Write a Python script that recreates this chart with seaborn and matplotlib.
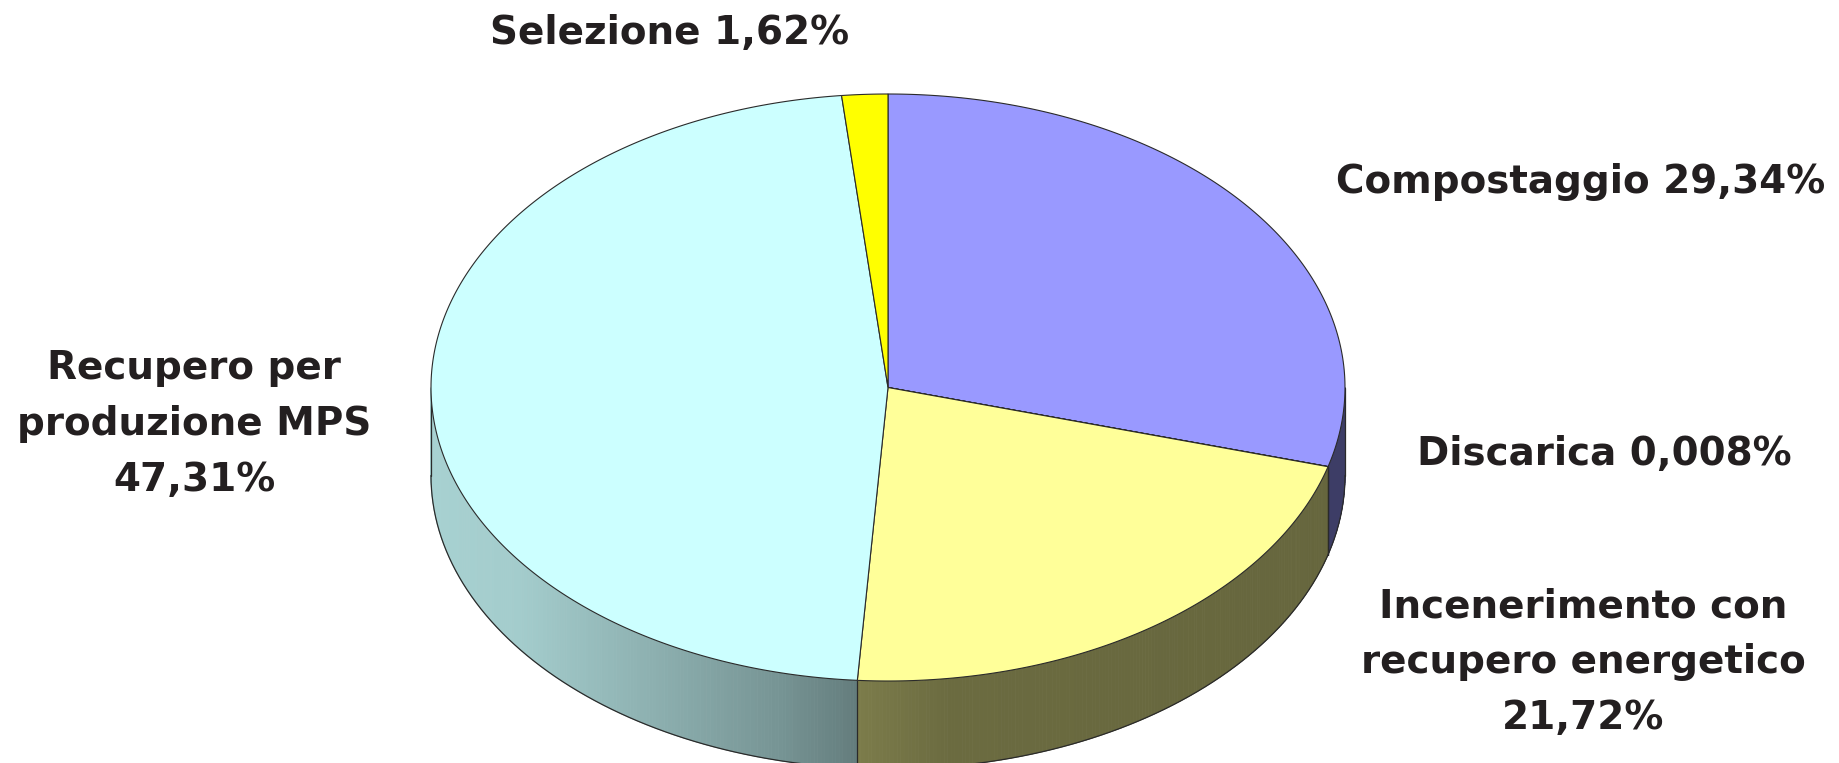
import numpy as np
import matplotlib.pyplot as plt
from matplotlib.collections import PolyCollection
from matplotlib.patches import Polygon
import seaborn as sns

# DATA
categories = ["Compostaggio", "Discarica", "Incenerimento con recupero energetico",
              "Recupero per produzione MPS", "Selezione"]
shares = [29.34, 0.008, 21.72, 47.31, 1.62]
labels = ["Compostaggio 29,34%", "Discarica 0,008%",
          "Incenerimento con\nrecupero energetico\n21,72%",
          "Recupero per\nproduzione MPS\n47,31%", "Selezione 1,62%"]
slice_colors = ["#9999FF", "#993366", "#FFFF99", "#CCFFFF", "#FFFF00"]

sns.set_theme(style="white")
plt.rcParams["font.family"] = ["DejaVu Sans"]
palette = sns.color_palette(slice_colors)

# layout of the pseudo-3D pie (pixel units, y downwards)
cx, cy, rx, ry, depth = 888, 387.5, 457, 293.5, 88
label_pos = [(1581, 182), (1604, 454), (1583, 662), (194, 424), (670, 33)]
text_color = "#231f20"
edge = "#2a2a2a"

# side shading by horizontal position (light on the left, dark on the right)
shade_x = [431, 520, 653, 780, 865, 950, 1345]
shade_f = [0.82, 0.80, 0.69, 0.58, 0.48, 0.42, 0.40]


def pt(t, dy=0.0):
    return cx + rx * np.sin(t), cy - ry * np.cos(t) + dy


fig = plt.figure(figsize=(18.39, 7.63), dpi=100)
ax = fig.add_axes([0, 0, 1, 1])
ax.set_xlim(0, 1839)
ax.set_ylim(763, 0)
ax.axis("off")

total = sum(shares)
bounds = np.concatenate([[0], np.cumsum(shares) / total]) * 2 * np.pi

# side walls of the front half
polys, cols = [], []
for i, col in enumerate(palette):
    a0 = max(bounds[i], np.pi / 2)
    a1 = min(bounds[i + 1], 3 * np.pi / 2)
    if a1 <= a0:
        continue
    ts = np.linspace(a0, a1, max(2, int((a1 - a0) / np.pi * 400)))
    for t0, t1 in zip(ts[:-1], ts[1:]):
        x0, y0 = pt(t0)
        x1, y1 = pt(t1)
        polys.append([(x0, y0), (x1, y1), (x1, y1 + depth), (x0, y0 + depth)])
        f = np.interp((x0 + x1) / 2, shade_x, shade_f)
        cols.append(tuple(np.array(col) * f))
ax.add_collection(PolyCollection(polys, facecolors=cols, edgecolors=cols, linewidths=0.6, zorder=1))

# outlines of the side
tb = np.linspace(np.pi / 2, 3 * np.pi / 2, 400)
bx, by = pt(tb, depth)
ax.plot(bx, by, color=edge, lw=0.9, zorder=2)
for t in [np.pi / 2, 3 * np.pi / 2] + [b for b in bounds if np.pi / 2 < b < 3 * np.pi / 2]:
    x, y = pt(t)
    ax.plot([x, x], [y, y + depth], color=edge, lw=0.9, zorder=2)

# top faces
for i, col in enumerate(palette):
    ts = np.linspace(bounds[i], bounds[i + 1], max(2, int((bounds[i + 1] - bounds[i]) * 100)))
    xs, ys = pt(ts)
    verts = [(cx, cy)] + list(zip(xs, ys))
    ax.add_patch(Polygon(verts, closed=True, facecolor=col, edgecolor=edge, lw=0.8, zorder=3))

# labels
for lab, (x, y) in zip(labels, label_pos):
    ax.text(x, y, lab, ha="center", va="center", fontsize=28, fontweight="bold",
            color=text_color, linespacing=1.6, zorder=4)

fig.savefig("out.png", dpi=100)
